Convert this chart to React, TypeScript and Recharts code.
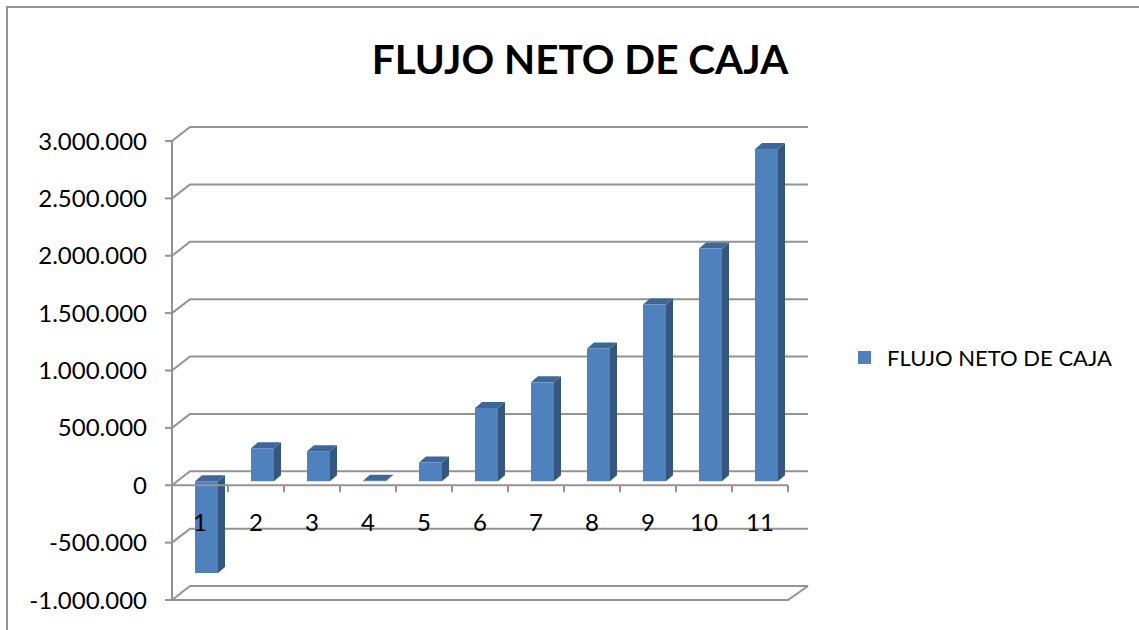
import { BarChart, Bar, XAxis, YAxis, CartesianGrid, ReferenceLine } from 'recharts';

const periods = ['1', '2', '3', '4', '5', '6', '7', '8', '9', '10', '11'];
const flujoNeto = [-800000, 288000, 262000, 5000, 163000, 638000, 862000, 1157000, 1540000, 2028000, 2895000];
const yTicks = [-1000000, -500000, 0, 500000, 1000000, 1500000, 2000000, 2500000, 3000000];

const chartData = periods.map((p, i) => ({ name: p, flujo: flujoNeto[i] }));

const FONT = 'Lato, "Open Sans", sans-serif';
const GRID = '#939393';
// fake 3D depth
const BACK_DX = 18;
const BACK_DY = -14;
const SHIFT_X = 6;
const SHIFT_Y = -4;
const DEPTH_X = 7;
const DEPTH_Y = -6;

const fmt = (v: number) => {
  const s = Math.abs(v).toString().replace(/\B(?=(\d{3})+(?!\d))/g, '.');
  return v < 0 ? '-' + s : s;
};

function Bar3D(props: any) {
  const { x, y, width, height } = props;
  const top = Math.min(y, y + height) + SHIFT_Y;
  const bottom = Math.max(y, y + height) + SHIFT_Y;
  const left = x + SHIFT_X;
  const right = left + width;
  return (
    <g>
      <polygon
        points={`${right},${top} ${right + DEPTH_X},${top + DEPTH_Y} ${right + DEPTH_X},${bottom + DEPTH_Y} ${right},${bottom}`}
        fill="#34577f"
      />
      <polygon
        points={`${left},${top} ${left + DEPTH_X},${top + DEPTH_Y} ${right + DEPTH_X},${top + DEPTH_Y} ${right},${top}`}
        fill="#3e6798"
      />
      <rect x={left} y={top} width={width} height={Math.max(bottom - top, 0.5)} fill="#4f81bd" />
    </g>
  );
}

// back wall gridline + left wall diagonal; the lowest one also closes the floor
function GridLine(props: any) {
  const { x1, x2, y1, index } = props;
  const floor = index === 0;
  return (
    <g key={`g-${index}`}>
      <polyline
        points={`${x1},${y1} ${x1 + BACK_DX},${y1 + BACK_DY} ${x2 + BACK_DX + 2},${y1 + BACK_DY}`}
        fill="none"
        stroke={GRID}
        strokeWidth={2}
      />
      {floor && (
        <polyline
          points={`${x1},${y1} ${x2},${y1} ${x2 + BACK_DX + 2},${y1 + BACK_DY}`}
          fill="none"
          stroke={GRID}
          strokeWidth={2}
        />
      )}
    </g>
  );
}

function ZeroAxis(props: any) {
  const { x1, x2, y1 } = props;
  const step = (x2 - x1) / periods.length;
  return (
    <g>
      <line x1={x1} y1={y1} x2={x2} y2={y1} stroke={GRID} strokeWidth={2} />
      {periods.map((p, i) => (
        <line key={p} x1={x1 + step * (i + 1)} y1={y1} x2={x1 + step * (i + 1)} y2={y1 + 7} stroke={GRID} strokeWidth={2} />
      ))}
    </g>
  );
}

function PeriodTick(props: any) {
  const { x, y, payload } = props;
  return (
    <text x={x} y={y - 87} textAnchor="middle" dominantBaseline="central" fontSize={24} fontFamily={FONT} fill="#000">
      {payload.value}
    </text>
  );
}

export default function App() {
  return (
    <div style={{ position: 'absolute', left: 0, top: 0, width: 1139, height: 630, overflow: 'hidden', background: '#fff' }}>
      <div
        style={{
          position: 'absolute',
          left: 6,
          top: 6,
          width: 1200,
          height: 700,
          borderLeft: `2px solid ${GRID}`,
          borderTop: `2px solid ${GRID}`,
        }}
      />
      <div
        style={{
          position: 'absolute',
          left: 0,
          width: 1160,
          top: 34,
          textAlign: 'center',
          fontFamily: FONT,
          fontWeight: 700,
          fontSize: 40.5,
          color: '#000',
        }}
      >
        FLUJO NETO DE CAJA
      </div>
      <div style={{ position: 'absolute', left: 0, top: 0 }}>
        <BarChart width={1139} height={630} data={chartData} margin={{ top: 141, right: 351, bottom: 0, left: 0 }}>
          <CartesianGrid vertical={false} horizontal={GridLine} />
          <YAxis
            width={172}
            domain={[-1000000, 3000000]}
            ticks={yTicks}
            tickFormatter={fmt}
            interval={0}
            tickSize={7}
            tickMargin={18}
            axisLine={{ stroke: GRID, strokeWidth: 2 }}
            tickLine={{ stroke: GRID, strokeWidth: 2 }}
            tick={{ fontSize: 24, fontFamily: FONT, fill: '#000' }}
          />
          <XAxis dataKey="name" height={30} axisLine={false} tickLine={false} interval={0} tick={PeriodTick} />
          <ReferenceLine y={0} shape={ZeroAxis} />
          <Bar dataKey="flujo" name="FLUJO NETO DE CAJA" barSize={23} shape={Bar3D} isAnimationActive={false} />
        </BarChart>
      </div>
      <div
        style={{
          position: 'absolute',
          left: 858,
          top: 344,
          display: 'flex',
          alignItems: 'center',
          fontFamily: FONT,
          fontSize: 22,
          color: '#000',
        }}
      >
        <span style={{ width: 13, height: 13, background: '#4f81bd', display: 'inline-block', marginRight: 16 }} />
        <span>FLUJO NETO DE CAJA</span>
      </div>
    </div>
  );
}
